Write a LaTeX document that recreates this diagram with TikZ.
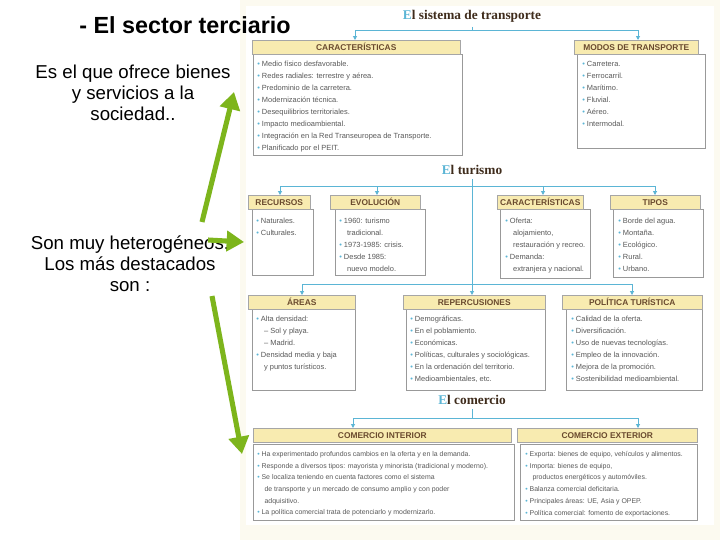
\documentclass[tikz,border=0pt]{standalone}
\usepackage{fontspec}
\setmainfont{Liberation Sans}
\newfontfamily\serif{Liberation Serif}
\usetikzlibrary{arrows.meta}
\definecolor{grn}{HTML}{7DB51C}
\definecolor{bl}{HTML}{5BB5D5}
\definecolor{hdr}{HTML}{F8EBB0}
\definecolor{brn}{HTML}{6A4A2E}
\definecolor{cream}{HTML}{FCFAF0}
\newcommand{\bu}{\textcolor{bl}{\textbullet}\ }
\newcommand{\ind}{\hspace*{1.05em}}
\begin{document}
\begin{tikzpicture}[x=0.75pt,y=-0.75pt,
  hd/.style={draw=gray!70,fill=hdr,minimum height=14*0.75pt,inner sep=0pt,anchor=north west,font=\fontsize{6.3}{7}\selectfont\bfseries,text=brn},
  bx/.style={draw=gray!80,line width=0.5pt},
  it/.style={anchor=north west,align=left,inner sep=0pt,font=\fontsize{5.6}{9}\selectfont,text=gray!70!black},
  ttl/.style={font=\fontsize{10}{11}\selectfont\bfseries\serif,text=brn!60!black},
  cn/.style={draw=bl,line width=0.7pt},
  ar/.style={cn,-{Triangle[length=3pt,width=3pt]}},
  ga/.style={grn,line width=3.8pt,-{Triangle[length=13pt,width=15pt]}},
  big/.style={font=\fontsize{14}{15.6}\selectfont,align=center}]
\useasboundingbox (0,0) rectangle (720,540);
\fill[white] (0,0) rectangle (720,540);
% image background
\fill[cream] (240,0) rectangle (720,540);
\fill[white] (246,6) rectangle (714,525);
% ---------- transport
\node[ttl] (t1) at (472,16) {\textcolor{bl}{E}l sistema de transporte};
\coordinate (t1a) at (472,30);
\draw[cn] (t1.south) -- (t1a);
\coordinate (t1l) at (355,30); \coordinate (t1r) at (638,30);
\draw[cn] (t1l) -- (t1r);
\draw[bx] (253,54) rectangle (462,155);
\draw[bx] (577,54) rectangle (705,148);
\node[hd,minimum width=208*0.75pt] (c1) at (252,40) {CARACTERÍSTICAS};
\node[hd,minimum width=124*0.75pt] (m1) at (574,40) {MODOS DE TRANSPORTE};
\draw[ar] (t1l) -- (c1.north -| t1l);
\draw[ar] (t1r) -- (m1.north -| t1r);
\node[it] (c1t) at (257,61) {\bu Medio físico desfavorable.\\\bu Redes radiales: terrestre y aérea.\\\bu Predominio de la carretera.\\\bu Modernización técnica.\\\bu Desequilibrios territoriales.\\\bu Impacto medioambiental.\\\bu Integración en la Red Transeuropea de Transporte.\\\bu Planificado por el PEIT.};
\node[it] (m1t) at (582,61) {\bu Carretera.\\\bu Ferrocarril.\\\bu Marítimo.\\\bu Fluvial.\\\bu Aéreo.\\\bu Intermodal.};
% ---------- turismo
\node[ttl] (t2) at (472,170) {\textcolor{bl}{E}l turismo};
\coordinate (t2l) at (280,186); \coordinate (t2r) at (655,186);
\coordinate (t2b) at (472,284);
\draw[cn] (t2l) -- (t2r);
\draw[cn] (t2.south) -- (t2b);
\draw[bx] (252,209) rectangle (313,275);
\draw[bx] (335,209) rectangle (425,275);
\draw[bx] (500,209) rectangle (590,278);
\draw[bx] (613,209) rectangle (703,277);
\node[hd,minimum width=62*0.75pt] (r1) at (248,195) {RECURSOS};
\node[hd,minimum width=90*0.75pt] (e1) at (330,195) {EVOLUCIÓN};
\node[hd,minimum width=86*0.75pt] (k1) at (497,195) {CARACTERÍSTICAS};
\node[hd,minimum width=90*0.75pt] (p1) at (610,195) {TIPOS};
\draw[ar] (t2l) -- (r1.north -| t2l);
\draw[ar] (377,186) -- (e1.north -| 377,0);
\draw[ar] (543,186) -- (k1.north -| 543,0);
\draw[ar] (t2r) -- (p1.north -| t2r);
\node[it] (r1t) at (256,218) {\bu Naturales.\\\bu Culturales.};
\node[it] (e1t) at (339,218) {\bu 1960: turismo\\\ind tradicional.\\\bu 1973-1985: crisis.\\\bu Desde 1985:\\\ind nuevo modelo.};
\node[it] (k1t) at (505,218) {\bu Oferta:\\\ind alojamiento,\\\ind restauración y recreo.\\\bu Demanda:\\\ind extranjera y nacional.};
\node[it] (p1t) at (618,218) {\bu Borde del agua.\\\bu Montaña.\\\bu Ecológico.\\\bu Rural.\\\bu Urbano.};
\coordinate (u2l) at (302,284); \coordinate (u2r) at (632,284);
\draw[cn] (u2l) -- (u2r);
\draw[bx] (252,309) rectangle (355,390);
\draw[bx] (406,309) rectangle (545,390);
\draw[bx] (566,309) rectangle (702,390);
\node[hd,minimum width=107*0.75pt] (a1) at (248,295) {ÁREAS};
\node[hd,minimum width=142*0.75pt] (q1) at (403,295) {REPERCUSIONES};
\node[hd,minimum width=140*0.75pt] (l1) at (562,295) {POLÍTICA TURÍSTICA};
\draw[ar] (u2l) -- (a1.north -| u2l);
\draw[ar] (t2b) -- (q1.north -| t2b);
\draw[ar] (u2r) -- (l1.north -| u2r);
\node[it] (a1t) at (256,316) {\bu Alta densidad:\\\ind -- Sol y playa.\\\ind -- Madrid.\\\bu Densidad media y baja\\\ind y puntos turísticos.};
\node[it] (q1t) at (410,316) {\bu Demográficas.\\\bu En el poblamiento.\\\bu Económicas.\\\bu Políticas, culturales y sociológicas.\\\bu En la ordenación del territorio.\\\bu Medioambientales, etc.};
\node[it] (l1t) at (571,316) {\bu Calidad de la oferta.\\\bu Diversificación.\\\bu Uso de nuevas tecnologías.\\\bu Empleo de la innovación.\\\bu Mejora de la promoción.\\\bu Sostenibilidad medioambiental.};
% ---------- comercio
\node[ttl] (t3) at (472,400) {\textcolor{bl}{E}l comercio};
\coordinate (t3l) at (353,418); \coordinate (t3r) at (638,418);
\draw[cn] (t3.south) -- (472,418);
\draw[cn] (t3l) -- (t3r);
\draw[bx] (253,444) rectangle (514,520);
\draw[bx] (520,444) rectangle (697,520);
\node[hd,minimum width=258*0.75pt] (ci) at (253,428) {COMERCIO INTERIOR};
\node[hd,minimum width=180*0.75pt] (ce) at (517,428) {COMERCIO EXTERIOR};
\draw[ar] (t3l) -- (ci.north -| t3l);
\draw[ar] (t3r) -- (ce.north -| t3r);
\node[it,font=\fontsize{5.2}{8.8}\selectfont] (cit) at (257,451) {\bu Ha experimentado profundos cambios en la oferta y en la demanda.\\\bu Responde a diversos tipos: mayorista y minorista (tradicional y moderno).\\\bu Se localiza teniendo en cuenta factores como el sistema\\\ind de transporte y un mercado de consumo amplio y con poder\\\ind adquisitivo.\\\bu La política comercial trata de potenciarlo y modernizarlo.};
\node[it,font=\fontsize{5.2}{8.8}\selectfont] (cet) at (525,451) {\bu Exporta: bienes de equipo, vehículos y alimentos.\\\bu Importa: bienes de equipo,\\\ind productos energéticos y automóviles.\\\bu Balanza comercial deficitaria.\\\bu Principales áreas: UE, Asia y OPEP.\\\bu Política comercial: fomento de exportaciones.};
% ---------- left slide text
\node[font=\fontsize{17.5}{19}\selectfont\bfseries] (h) at (185,25) {- El sector terciario};
\node[big] (s1) at (133,93) {Es el que ofrece bienes\\y servicios a la\\sociedad..};
\node[big] (s2) at (130,264) {Son muy heterogéneos.\\Los más destacados\\son :};
\coordinate (g0) at (202,222); \coordinate (g1) at (234,92);
\coordinate (g2) at (208,240); \coordinate (g3) at (244,242);
\coordinate (g4) at (212,296); \coordinate (g5) at (242,454);
\draw[ga] (g0) -- (g1);
\draw[ga] (g2) -- (g3);
\draw[ga] (g4) -- (g5);
\end{tikzpicture}
\end{document}
